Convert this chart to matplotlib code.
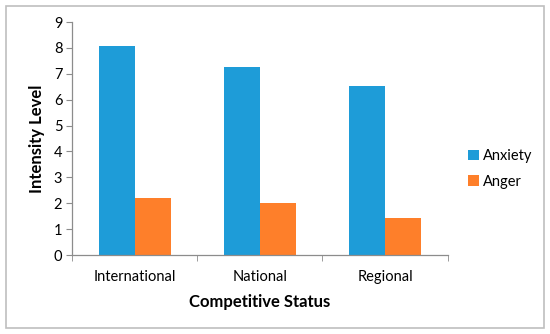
import numpy as np
import matplotlib
matplotlib.use('Agg')
import matplotlib.pyplot as plt
from matplotlib.patches import Rectangle

plt.rcParams['font.family'] = ['Lato', 'DejaVu Sans']

categories = ['International', 'National', 'Regional']
anxiety = [8.07, 7.27, 6.51]
anger = [2.19, 2.0, 1.42]
y_ticks = list(range(0, 10))

blue = '#1E9CD8'
orange = '#FE7F2A'
axis_grey = '#8C8C8C'

fig = plt.figure(figsize=(5.5, 3.34), dpi=100)
ax = fig.add_axes([0.131, 0.2365, 0.683, 0.6975])

x = np.arange(len(categories))
w = 0.288
ax.bar(x - w / 2, anxiety, width=w, color=blue, label='Anxiety')
ax.bar(x + w / 2, anger, width=w, color=orange, label='Anger')

ax.set_xlim(-0.5, len(categories) - 0.5)
ax.set_ylim(0, 9)
ax.set_yticks(y_ticks)
ax.set_xticks(x)
ax.set_xticklabels(categories)
ax.set_xticks(np.arange(-0.5, len(categories)), minor=True)

for s in ['top', 'right']:
    ax.spines[s].set_visible(False)
for s in ['left', 'bottom']:
    ax.spines[s].set_color(axis_grey)
    ax.spines[s].set_linewidth(0.9)

ax.tick_params(axis='y', length=4, color=axis_grey, labelsize=10.5, pad=3)
ax.tick_params(axis='x', which='major', length=0, labelsize=10.5, pad=11)
ax.tick_params(axis='x', which='minor', length=4, color=axis_grey)

ax.set_ylabel('Intensity Level', fontsize=12, fontweight='bold', labelpad=6)
ax.set_xlabel('Competitive Status', fontsize=12, fontweight='bold', labelpad=7)

ax.legend(loc='center left', bbox_to_anchor=(1.02, 0.37), frameon=False,
          fontsize=10.5, handlelength=0.7, handleheight=0.7, handletextpad=0.3,
          labelspacing=0.8)

# outer chart border
fig.patches.append(Rectangle((6 / 550, 6 / 334), 538 / 550, 322 / 334,
                             transform=fig.transFigure, fill=False,
                             edgecolor='#BFBFBF', linewidth=1.2))

fig.savefig('out.png', dpi=100)
